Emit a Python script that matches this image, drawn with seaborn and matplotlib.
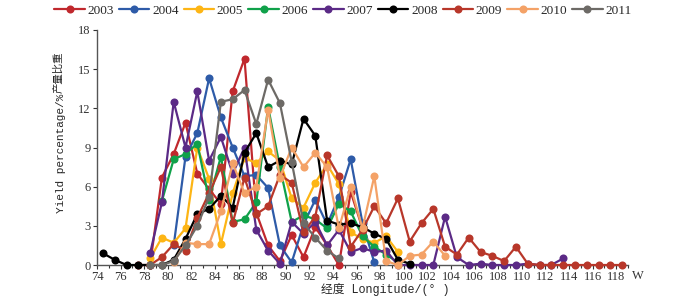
import numpy as np
import pandas as pd
import matplotlib
matplotlib.use("Agg")
import matplotlib.pyplot as plt
import seaborn as sns

# Longitude bin centres (degrees W) where each year's series starts
years = ["2003", "2004", "2005", "2006", "2007", "2008", "2009", "2010", "2011"]
colors = ["#C0282D", "#2E5BA8", "#FDB515", "#10A14A", "#5B2A86",
          "#000000", "#B8372A", "#F4A267", "#6D6A66"]

start_2003 = 77.5
y_2003 = [0, 0, 6.7, 8.5, 10.9, 7.0, 5.8, 4.7, 13.3, 15.8, 4.0, 1.5, 0.3, 2.3,
          0.6, 2.9, 1.5, 0.0, 5.6, 2.8]
start_2004 = 80.5
y_2004 = [1.5, 8.3, 10.1, 14.3, 11.3, 9.0, 6.8, 6.9, 5.9, 1.5, 0.2, 3.1, 5.0,
          3.1, 5.2, 8.1, 3.2, 0.2]
start_2005 = 78.5
y_2005 = [0.5, 2.1, 1.7, 2.8, 9.0, 6.6, 1.6, 5.5, 8.2, 7.8, 8.7, 8.0, 5.1, 4.4,
          6.3, 7.7, 6.2, 2.5, 2.0, 1.7, 2.2, 1.0]
start_2006 = 79.5
y_2006 = [4.9, 8.1, 8.5, 9.3, 5.0, 8.3, 3.3, 3.5, 4.8, 12.1, 7.5, 3.3, 3.8, 3.5,
          2.8, 4.7, 4.1, 2.2, 1.4, 0.8, 0.2]
start_2007 = 78.5
y_2007 = [0.9, 4.8, 12.5, 9.0, 13.3, 8.0, 9.8, 7.0, 9.0, 2.7, 1.1, 0.1, 3.3, 2.4,
          3.3, 1.5, 2.7, 1.0, 1.3, 1.0, 1.1, 0.0, 0.0, 0.0, 0.0, 3.7, 0.6, 0.0,
          0.1, 0.0, 0.0, 0.0, 0.1, 0.0, 0.0, 0.5]
start_2008 = 74.5
y_2008 = [0.9, 0.4, 0.0, 0.0, 0.0, 0.0, 0.4, 2.0, 3.9, 4.3, 5.3, 4.4, 8.6, 10.1,
          7.5, 8.0, 7.7, 11.2, 9.9, 3.4, 3.1, 3.2, 2.9, 2.4, 2.0, 0.4, 0.1]
start_2009 = 78.5
y_2009 = [0.0, 0.6, 1.6, 1.1, 3.6, 5.5, 7.5, 3.2, 6.7, 3.9, 4.5, 6.9, 6.3, 2.5,
          3.7, 8.4, 6.8, 1.4, 2.7, 4.5, 3.2, 5.1, 1.8, 3.2, 4.3, 1.4, 0.8, 2.1,
          1.0, 0.7, 0.3, 1.4, 0.1, 0, 0, 0, 0, 0, 0, 0, 0]
start_2010 = 80.5
y_2010 = [0.2, 1.7, 1.6, 1.6, 4.1, 7.8, 5.5, 6.0, 11.9, 6.7, 9.0, 7.5, 8.6, 7.5,
          2.8, 6.0, 2.8, 6.8, 0.3, 0.0, 0.7, 0.8, 1.8, 0.7]
start_2011 = 78.5
y_2011 = [0.0, 0.0, 0.3, 1.5, 3.0, 5.2, 12.5, 12.7, 13.4, 10.8, 14.2, 12.4, 7.9,
          3.2, 2.1, 1.1, 0.5]

starts = [start_2003, start_2004, start_2005, start_2006, start_2007,
          start_2008, start_2009, start_2010, start_2011]
values = [y_2003, y_2004, y_2005, y_2006, y_2007, y_2008, y_2009, y_2010, y_2011]

x_ticks = list(range(74, 119, 2))
y_ticks = list(range(0, 19, 3))

sns.set_theme(style="ticks")
plt.rcParams["font.family"] = ["Liberation Serif", "Noto Sans CJK SC"]

fig = plt.figure(figsize=(7, 2.97), dpi=100)
ax = fig.add_axes([97 / 700, 32 / 297, (628 - 97) / 700, (265 - 30) / 297])

for yr, c, s, v in zip(years, colors, starts, values):
    lon = s + np.arange(len(v))
    sns.lineplot(x=lon, y=v, ax=ax, color=c, marker="o", markersize=5.8,
                 markeredgecolor=c, markeredgewidth=0, linewidth=1.6,
                 label=yr, clip_on=False, zorder=3)

ax.set_xlim(74, 119)
ax.set_ylim(0, 18)
ax.set_xticks(x_ticks)
ax.set_xticks(range(74, 120), minor=True)
ax.set_yticks(y_ticks)
ax.tick_params(axis="both", labelsize=9, length=3, width=0.8, pad=1.5,
               colors="#333333")
ax.tick_params(axis="x", which="minor", length=2, width=0.8, colors="#333333")
for sp in ["top", "right"]:
    ax.spines[sp].set_visible(False)
for sp in ["left", "bottom"]:
    ax.spines[sp].set_color("#555555")
    ax.spines[sp].set_linewidth(1.0)
ax.set_xlabel("")
ax.set_ylabel("")

ax.text(119.3, -0.02, "W", transform=ax.get_xaxis_transform(),
        ha="left", va="top", fontsize=9, color="#333333")

lab_font = ["Liberation Mono", "Noto Sans CJK SC"]
fig.text(385 / 700, 1 - 289 / 297, "经度 Longitude/(° )", ha="center",
         va="center", fontsize=8.5, family=lab_font)
fig.text(58 / 700, 1 - 72 / 297, "产量比重", rotation=90, ha="center",
         va="center", fontsize=7.5, family=lab_font)
fig.text(61 / 700, 1 - 153 / 297, "Yield percentage/%", rotation=90,
         ha="center", va="center", fontsize=8, family=lab_font)

ax.get_legend().remove()
handles, labels = ax.get_legend_handles_labels()
fig.legend(handles, labels, loc="upper center", ncol=9,
           bbox_to_anchor=(0.49, 1.025), frameon=False, fontsize=9.5,
           handlelength=2.3, handletextpad=0.2, columnspacing=0.4)

fig.savefig("out.png", dpi=100)
